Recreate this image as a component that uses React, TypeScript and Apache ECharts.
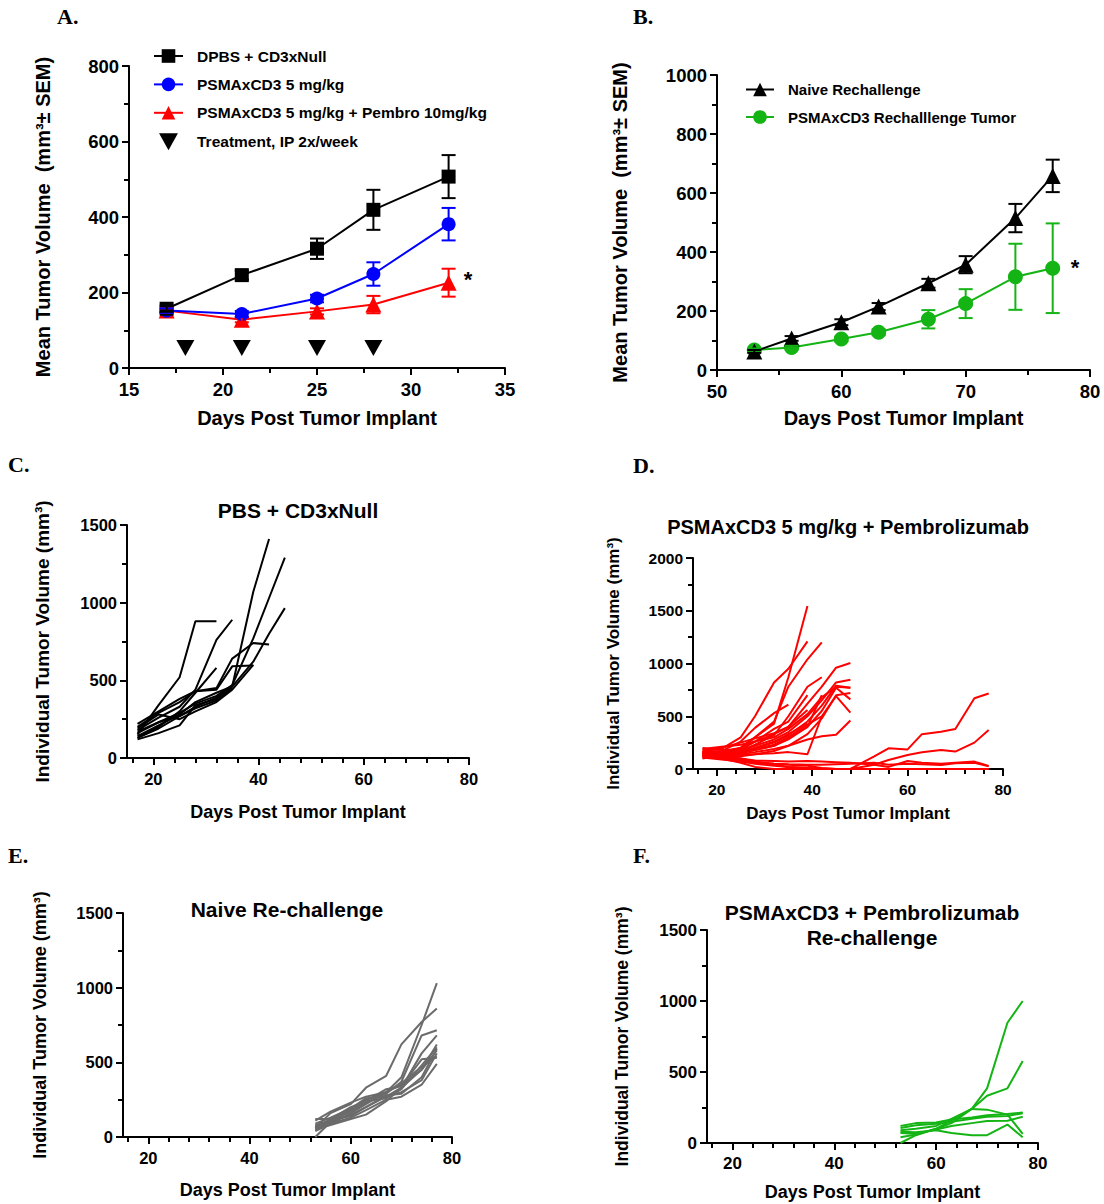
import React, { useEffect, useRef } from "react";
import * as echarts from "echarts";

const FONT = "Arial, 'Liberation Sans', Helvetica, sans-serif";
const SERIF = "'Times New Roman', 'Liberation Serif', serif";

// ---------- Panel A ----------
const daysA = [17, 21, 25, 28, 32];
const dpbsMean = [157, 246, 316, 419, 507];
const dpbsSem = [8, 12, 27, 53, 57];
const psmaMean = [152, 143, 184, 249, 381];
const psmaSem = [6, 8, 10, 31, 43];
const pembroMean = [152, 128, 150, 168, 226];
const pembroSem = [6, 7, 8, 23, 37];
const treatmentDays = [18, 21, 25, 28];
const treatmentLevel = [53, 53, 53, 53];
const legendA = [
  "DPBS + CD3xNull",
  "PSMAxCD3 5 mg/kg",
  "PSMAxCD3 5 mg/kg + Pembro 10mg/kg",
  "Treatment, IP 2x/week",
];

// ---------- Panel B ----------
const daysB = [53, 56, 60, 63, 67, 70, 74, 77];
const naiveMean = [63, 107, 162, 215, 294, 357, 515, 658];
const naiveSem = [5, 8, 10, 12, 15, 29, 48, 55];
const rechalMean = [68, 76, 105, 128, 172, 225, 316, 345];
const rechalSem = [5, 6, 8, 10, 31, 49, 112, 152];
const legendB = ["Naive Rechallenge", "PSMAxCD3 Rechalllenge Tumor"];

// ---------- Panel C ----------
const daysC = [17, 21, 25, 28, 32, 35, 39, 42, 45];
const miceC = [
  [150, 340, 520, 880, 880],
  [180, 260, 330, 440, 760, 890],
  [130, 200, 300, 420, 580],
  [140, 210, 280, 360, 420, 460, 1070, 1410],
  [160, 230, 290, 350, 400, 470, 770, 1030, 1290],
  [130, 190, 270, 330, 390, 460, 620, 800, 965],
  [200, 290, 360, 430, 450, 640, 740, 730],
  [220, 300, 380, 430, 440, 590, 595],
  [120, 160, 210, 340, 380, 460],
  [170, 230, 270, 320, 370, 450],
  [190, 280, 250, 300, 360, 440, 600],
];

// ---------- Panel D ----------
const daysD = [17, 21, 25, 28, 32, 35, 39, 42, 45, 48, 53, 56, 60, 63, 67, 70, 74, 77];
const miceD = [
  [150, 160, 200, 300, 430, 870, 1545],
  [180, 190, 300, 500, 820, 950, 1210],
  [140, 150, 200, 300, 450, 780, 1040, 1200],
  [130, 140, 170, 230, 320, 500, 780, 870],
  [150, 170, 260, 390, 530, 610],
  [120, 140, 180, 260, 380, 450, 700],
  [160, 170, 200, 260, 330, 400, 620, 780, 960, 1005],
  [140, 150, 180, 220, 280, 350, 500, 650, 820, 845],
  [130, 140, 170, 200, 250, 320, 450, 600, 790, 770],
  [120, 130, 150, 180, 220, 280, 400, 550, 770, 660],
  [150, 160, 170, 190, 230, 300, 420, 500, 690, 535],
  [110, 120, 140, 160, 190, 220, 280, 310, 325, 460],
  [200, 180, 160, 180, 220, 300, 400, 700],
  [170, 150, 130, 140, 150, 160, 140, 500],
  [100, 130, 160, 200, 260, 330, 430],
  [190, 210, 230, 260, 300, 380, 520, 680, 780, 770],
  [130, 120, 120, 140, 170, 220, 330, 480, 700, 720],
  [160, 200, 250, 290, 340, 400, 560],
  [150, 100, 60, 20, 0, 0, 0, 0, 0, 0, 0, 0, 0, 0, 0, 0, 0, 0],
  [140, 120, 100, 80, 75, 70, 75, 70, 65, 60, 40, 20, 76, 60, 50, 60, 70, 30],
  [160, 130, 100, 70, 50, 40, 30, 10, 0, 0, 120, 196, 186, 330, 354, 380, 670, 715],
  [120, 110, 90, 60, 40, 20, 10, 0, 0, 0, 40, 85, 133, 158, 180, 165, 250, 370],
  [130, 100, 80, 60, 50, 45, 40, 40, 45, 50, 60, 40, 50, 45, 38, 55, 60, 25],
  [110, 90, 70, 50, 30, 20, 10, 5, 0, 0, 0, 0, 0, 0, 0, 0, 0, 0],
];

// ---------- Panel E ----------
const daysE = [53, 56, 60, 63, 67, 70, 74, 77];
const miceE = [
  [60, 160, 220, 330, 410, 620, 770, 860],
  [70, 120, 180, 250, 300, 400, 750, 1030],
  [50, 110, 170, 230, 290, 370, 680, 715],
  [80, 100, 150, 200, 270, 330, 560, 680],
  [40, 90, 160, 220, 300, 350, 450, 620],
  [120, 120, 200, 240, 260, 320, 480, 600],
  [70, 110, 140, 200, 280, 290, 400, 590],
  [0, 100, 180, 240, 320, 340, 520, 530],
  [60, 90, 130, 180, 250, 270, 350, 490],
  [90, 130, 190, 260, 270, 300, 380, 560],
  [50, 80, 120, 150, 240, 330, 450, 580],
  [110, 170, 230, 270, 300, 360, 470, 540],
];

// ---------- Panel F ----------
const daysF = [53, 56, 60, 63, 67, 70, 74, 77];
const miceF = [
  [0, 55, 100, 160, 240, 385, 847, 1000],
  [40, 60, 100, 140, 240, 333, 385, 577],
  [120, 140, 145, 165, 180, 195, 205, 214],
  [90, 100, 120, 170, 240, 235, 200, 65],
  [80, 75, 90, 70, 55, 55, 130, 40],
  [70, 65, 95, 120, 140, 155, 157, 185],
  [105, 125, 135, 150, 170, 185, 190, 210],
];

const dayLabels = [20, 40, 60, 80];
const dayMinorTicks = [16, 24, 28, 32, 36, 44, 48, 52, 56, 64, 68, 72, 76];

const BLACK = "#000000";
const BLUE = "#0000FF";
const RED = "#FF0000";
const GREEN = "#14B414";
const GRAY = "#6B6B6B";

const plain = (v: number) => String(v);

function errorBars(xi: number, yi: number, days: number[], mean: number[], sem: number[], color: string, half: number) {
  return {
    type: "custom",
    xAxisIndex: xi,
    yAxisIndex: yi,
    z: 6,
    silent: true,
    data: days.map((d, i) => [d, mean[i] - sem[i], mean[i] + sem[i]]),
    encode: { x: 0, y: [1, 2] },
    renderItem: (params: any, api: any) => {
      const x = api.value(0);
      const lo = api.coord([x, api.value(1)]);
      const hi = api.coord([x, api.value(2)]);
      const style = { stroke: color, lineWidth: 2, fill: "none" };
      return {
        type: "group",
        children: [
          { type: "line", shape: { x1: lo[0], y1: lo[1], x2: hi[0], y2: hi[1] }, style },
          { type: "line", shape: { x1: hi[0] - half, y1: hi[1], x2: hi[0] + half, y2: hi[1] }, style },
          { type: "line", shape: { x1: lo[0] - half, y1: lo[1], x2: lo[0] + half, y2: lo[1] }, style },
        ],
      };
    },
  };
}

function meanLine(name: string, xi: number, yi: number, days: number[], mean: number[], color: string, symbol: string, size: number, z: number) {
  return {
    type: "line",
    name,
    xAxisIndex: xi,
    yAxisIndex: yi,
    z,
    data: days.map((d, i) => [d, mean[i]]),
    symbol,
    symbolSize: size,
    showAllSymbol: true,
    lineStyle: { color, width: 2 },
    itemStyle: { color, borderWidth: 0, opacity: 1 },
  };
}

function miceSeries(days: number[], mice: number[][], xi: number, yi: number, color: string, width: number) {
  return mice.map((vals) => ({
    type: "line",
    xAxisIndex: xi,
    yAxisIndex: yi,
    symbol: "none",
    silent: true,
    data: vals.map((v, i) => [days[i], v]),
    lineStyle: { color, width },
    itemStyle: { color },
  }));
}

const tickStyle = { color: "#000", width: 2 };

function yAxis(grid: number, max: number, interval: number, name: string, nameGap: number, nameSize: number, labelSize: number) {
  return {
    type: "value",
    gridIndex: grid,
    min: 0,
    max,
    interval,
    name,
    nameLocation: "middle",
    nameGap,
    nameRotate: 90,
    nameTextStyle: { color: "#000", fontFamily: FONT, fontWeight: "bold", fontSize: nameSize },
    axisLine: { show: true, onZero: false, lineStyle: { color: "#000", width: 2 } },
    axisTick: { show: true, length: 7, lineStyle: tickStyle },
    minorTick: { show: true, splitNumber: 2, length: 5, lineStyle: tickStyle },
    splitLine: { show: false },
    minorSplitLine: { show: false },
    axisLabel: { color: "#000", fontFamily: FONT, fontWeight: "bold", fontSize: labelSize, margin: 10, formatter: plain },
  };
}

function xAxisAB(grid: number, min: number, max: number, interval: number, nameGap: number) {
  return {
    type: "value",
    gridIndex: grid,
    min,
    max,
    interval,
    name: "Days Post Tumor Implant",
    nameLocation: "middle",
    nameGap,
    nameTextStyle: { color: "#000", fontFamily: FONT, fontWeight: "bold", fontSize: 20 },
    axisLine: { show: true, onZero: false, lineStyle: { color: "#000", width: 2 } },
    axisTick: { show: true, length: 7, lineStyle: tickStyle },
    minorTick: { show: true, splitNumber: 2, length: 5, lineStyle: tickStyle },
    splitLine: { show: false },
    minorSplitLine: { show: false },
    axisLabel: { color: "#000", fontFamily: FONT, fontWeight: "bold", fontSize: 18.5, margin: 12, formatter: plain },
  };
}

function xAxisDays(grid: number, nameGap: number, nameSize: number, labelSize: number) {
  return {
    type: "value",
    gridIndex: grid,
    min: 15,
    max: 80,
    name: "Days Post Tumor Implant",
    nameLocation: "middle",
    nameGap,
    nameTextStyle: { color: "#000", fontFamily: FONT, fontWeight: "bold", fontSize: nameSize },
    axisLine: { show: true, onZero: false, lineStyle: { color: "#000", width: 2 } },
    axisTick: { show: true, length: 7, customValues: dayLabels, lineStyle: tickStyle },
    splitLine: { show: false },
    axisLabel: {
      color: "#000",
      fontFamily: FONT,
      fontWeight: "bold",
      fontSize: labelSize,
      margin: 12,
      customValues: dayLabels,
      formatter: plain,
    },
  };
}

function xAxisMinor(grid: number) {
  return {
    type: "value",
    gridIndex: grid,
    position: "bottom",
    offset: 0,
    min: 15,
    max: 80,
    axisLine: { show: false, onZero: false },
    axisTick: { show: true, length: 5, customValues: dayMinorTicks, lineStyle: tickStyle },
    splitLine: { show: false },
    axisLabel: { show: false, customValues: dayMinorTicks },
  };
}

function textEl(text: string, x: number, y: number, size: number, family: string, align = "center") {
  return {
    type: "text",
    x,
    y,
    silent: true,
    style: {
      text,
      fill: "#000",
      font: `bold ${size}px ${family}`,
      textAlign: align,
      textVerticalAlign: "middle",
    },
  };
}

const DOWN_TRIANGLE = "path://M0,0L20,0L10,18Z";

export default function App() {
  const ref = useRef<HTMLDivElement>(null);

  useEffect(() => {
    document.body.style.margin = "0";
    if (!ref.current) return;
    const chart = echarts.init(ref.current, undefined, { renderer: "svg" });

    const grids = [
      { left: 129, top: 66, width: 376, height: 302 },
      { left: 717, top: 75, width: 373, height: 295 },
      { left: 127, top: 525, width: 342, height: 233 },
      { left: 693, top: 558, width: 310, height: 211 },
      { left: 123, top: 913, width: 329, height: 224 },
      { left: 707, top: 930, width: 331, height: 213 },
    ].map((g) => ({ ...g, containLabel: false, outerBoundsMode: "none" }));

    const xAxes = [
      xAxisAB(0, 15, 35, 5, 40),
      xAxisAB(1, 50, 80, 10, 38),
      xAxisDays(2, 45, 18, 16.5),
      xAxisDays(3, 36, 17, 15.5),
      xAxisDays(4, 44, 18, 16.5),
      xAxisDays(5, 40, 18, 17),
      xAxisMinor(2),
      xAxisMinor(3),
      xAxisMinor(4),
      xAxisMinor(5),
    ];

    const yAxes = [
      yAxis(0, 800, 200, "Mean Tumor Volume  (mm³± SEM)", 76, 20, 18.5),
      yAxis(1, 1000, 200, "Mean Tumor Volume  (mm³± SEM)", 87, 20, 18.5),
      yAxis(2, 1500, 500, "Individual Tumor Volume (mm³)", 75, 19, 16.5),
      yAxis(3, 2000, 500, "Individual Tumor Volume (mm³)", 71, 17, 15.5),
      yAxis(4, 1500, 500, "Individual Tumor Volume (mm³)", 74, 18, 16.5),
      yAxis(5, 1500, 500, "Individual Tumor Volume (mm³)", 76, 17.5, 17),
    ];

    const series: any[] = [
      // Panel A
      {
        type: "scatter",
        name: legendA[3],
        xAxisIndex: 0,
        yAxisIndex: 0,
        symbol: DOWN_TRIANGLE,
        symbolSize: [18, 16],
        data: treatmentDays.map((d, i) => [d, treatmentLevel[i]]),
        itemStyle: { color: BLACK, opacity: 1 },
      },
      meanLine(legendA[2], 0, 0, daysA, pembroMean, RED, "triangle", 16, 3),
      errorBars(0, 0, daysA, pembroMean, pembroSem, RED, 7),
      meanLine(legendA[1], 0, 0, daysA, psmaMean, BLUE, "circle", 14, 4),
      errorBars(0, 0, daysA, psmaMean, psmaSem, BLUE, 7),
      meanLine(legendA[0], 0, 0, daysA, dpbsMean, BLACK, "rect", 14, 5),
      errorBars(0, 0, daysA, dpbsMean, dpbsSem, BLACK, 7),
      // Panel B
      meanLine(legendB[1], 1, 1, daysB, rechalMean, GREEN, "circle", 15, 4),
      errorBars(1, 1, daysB, rechalMean, rechalSem, GREEN, 7),
      meanLine(legendB[0], 1, 1, daysB, naiveMean, BLACK, "triangle", 16, 5),
      errorBars(1, 1, daysB, naiveMean, naiveSem, BLACK, 7),
      // Panels C-F
      ...miceSeries(daysC, miceC, 2, 2, BLACK, 2),
      ...miceSeries(daysD, miceD, 3, 3, RED, 2),
      ...miceSeries(daysE, miceE, 4, 4, GRAY, 2),
      ...miceSeries(daysF, miceF, 5, 5, GREEN, 2),
    ];

    const legendText = { color: "#000", fontFamily: FONT, fontWeight: "bold", fontSize: 15.5, padding: [0, 0, 0, 9] };

    chart.setOption({
      animation: false,
      backgroundColor: "#ffffff",
      textStyle: { fontFamily: FONT },
      grid: grids,
      xAxis: xAxes,
      yAxis: yAxes,
      legend: [
        {
          data: [
            { name: legendA[0] },
            { name: legendA[1] },
            { name: legendA[2] },
            { name: legendA[3], icon: DOWN_TRIANGLE, itemStyle: { color: BLACK, opacity: 1 } },
          ],
          orient: "vertical",
          left: 148,
          top: 43,
          itemWidth: 29,
          itemHeight: 17,
          itemGap: 12.4,
          selectedMode: false,
          textStyle: legendText,
        },
        {
          data: legendB,
          orient: "vertical",
          left: 740,
          top: 77,
          itemWidth: 28,
          itemHeight: 17,
          itemGap: 12.5,
          selectedMode: false,
          textStyle: { ...legendText, fontSize: 15 },
        },
      ],
      graphic: [
        textEl("A.", 57, 16, 22, SERIF, "left"),
        textEl("B.", 633, 16, 22, SERIF, "left"),
        textEl("C.", 8, 464, 22, SERIF, "left"),
        textEl("D.", 633, 465, 22, SERIF, "left"),
        textEl("E.", 8, 855, 22, SERIF, "left"),
        textEl("F.", 633, 855, 22, SERIF, "left"),
        textEl("*", 468, 279, 22, FONT),
        textEl("*", 1075, 267, 22, FONT),
        textEl("PBS + CD3xNull", 298, 510, 21, FONT),
        textEl("PSMAxCD3 5 mg/kg + Pembrolizumab", 848, 527, 20, FONT),
        textEl("Naive Re-challenge", 287, 909, 21, FONT),
        textEl("PSMAxCD3 + Pembrolizumab", 872, 912, 21, FONT),
        textEl("Re-challenge", 872, 937, 21, FONT),
      ],
      series,
    });

    return () => {
      chart.dispose();
    };
  }, []);

  return (
    <div
      ref={ref}
      style={{ position: "absolute", left: 0, top: 0, width: 1104, height: 1204, background: "#fff" }}
    />
  );
}
